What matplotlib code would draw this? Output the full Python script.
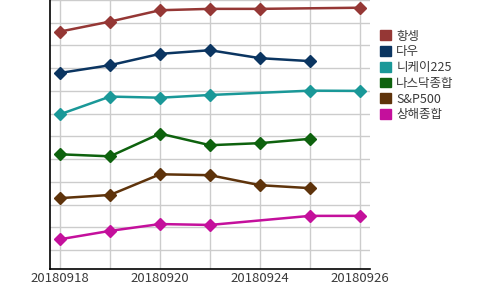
import matplotlib
matplotlib.use("Agg")
import matplotlib.pyplot as plt
from matplotlib.patches import Patch
import numpy as np

plt.rcParams['font.family'] = ['Noto Sans CJK KR', 'DejaVu Sans']

dates = ["20180918", "20180919", "20180920", "20180921", "20180924", "20180925", "20180926"]
tick_labels = ["20180918", "", "20180920", "", "20180924", "", "20180926"]

series_names = ["항셍", "다우", "니케이225", "나스닥종합", "S&P500", "상해종합"]
hangseng = [10.61, 11.05, 11.55, 11.61, 11.61, None, 11.66]
dow = [8.79, 9.13, 9.63, 9.79, 9.44, 9.31, None]
nikkei = [6.97, 7.75, 7.70, 7.82, None, 8.01, 8.00]
nasdaq = [5.21, 5.12, 6.12, 5.61, 5.70, 5.89, None]
sp500 = [3.28, 3.42, 4.33, 4.29, 3.85, 3.72, None]
shanghai = [1.47, 1.84, 2.14, 2.10, None, 2.50, 2.50]
colors = ["#953735", "#0b3561", "#1a9898", "#0e620e", "#5e330b", "#c4109c"]

all_series = [hangseng, dow, nikkei, nasdaq, sp500, shanghai]

fig = plt.figure(figsize=(5, 2.9), dpi=100)
ax = fig.add_axes([0.1, 0.0707, 0.64, 0.9293])

for name, vals, c in zip(series_names, all_series, colors):
    xs = [i for i, v in enumerate(vals) if v is not None]
    ys = [v for v in vals if v is not None]
    ax.plot(xs, ys, color=c, linewidth=1.8, marker='D', markersize=6,
            markeredgecolor=c, markerfacecolor=c, zorder=3, label=name)

ax.set_xlim(-0.2, 6.2)
ax.set_ylim(0.14, 12.0)
ax.set_xticks(range(len(dates)))
ax.set_xticklabels(tick_labels, fontsize=9.5, color="#3a3a3a")
ax.set_yticks(range(1, 13))
ax.set_yticklabels([])
ax.tick_params(axis='both', length=0, pad=2)
ax.grid(True, color="#cccccc", linewidth=1)
ax.set_axisbelow(True)
for s in ['top', 'right']:
    ax.spines[s].set_visible(False)
for s in ['left', 'bottom']:
    ax.spines[s].set_color('black')
    ax.spines[s].set_linewidth(1.2)

handles = [Patch(facecolor=c, edgecolor=c) for c in colors]
fig.legend(handles, series_names, loc='upper left', bbox_to_anchor=(0.76, 0.898),
           frameon=False, fontsize=9, handlelength=0.85, handleheight=0.85,
           handletextpad=0.45, labelspacing=0.22, borderaxespad=0, borderpad=0,
           labelcolor="#3a3a3a")

fig.savefig("out.png", dpi=100)
